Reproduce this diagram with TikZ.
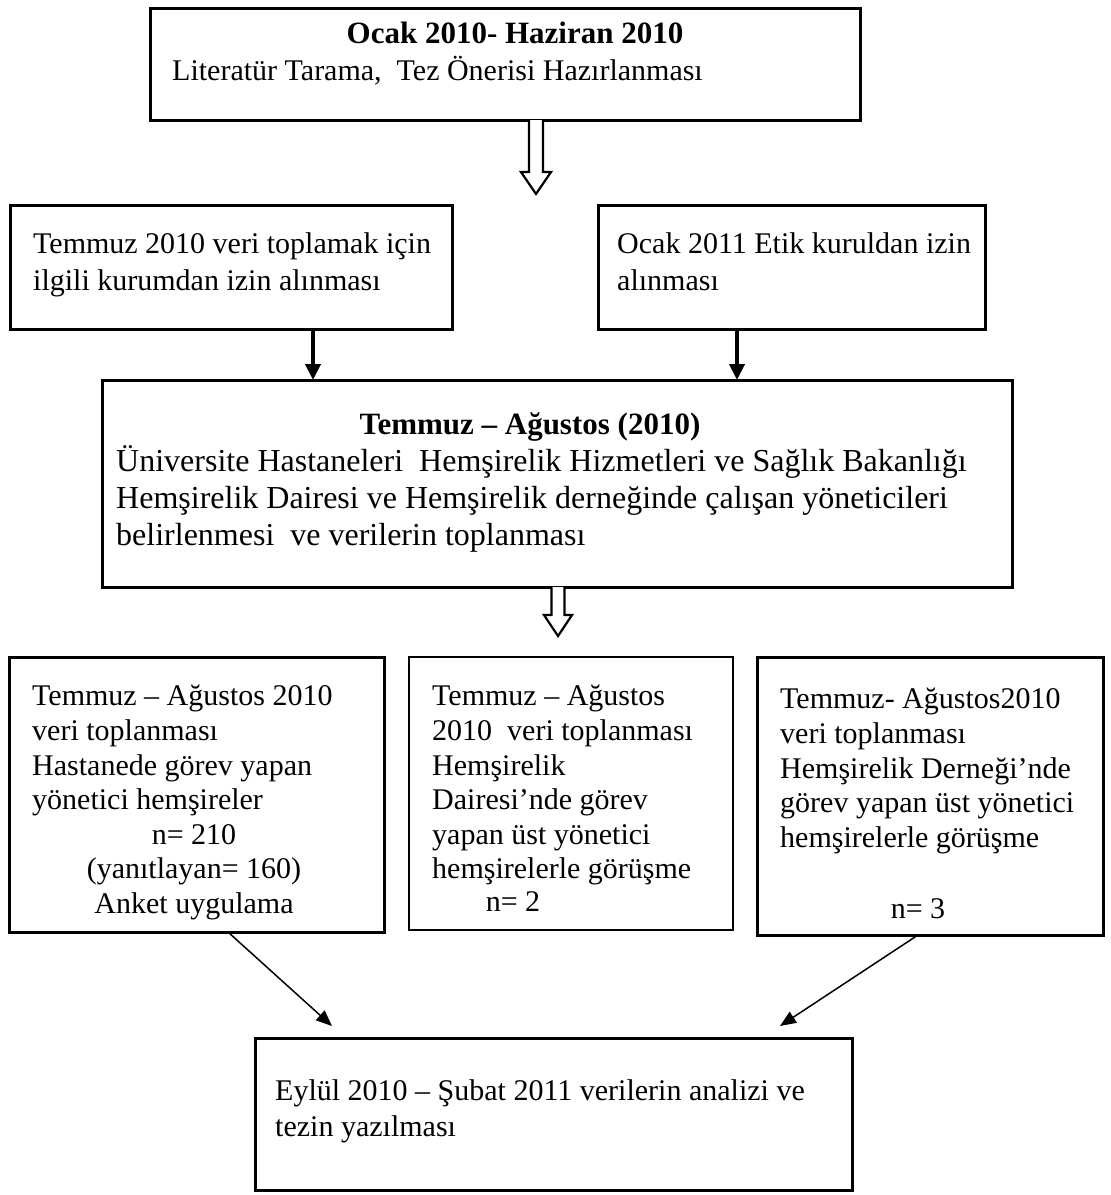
\documentclass[tikz,border=0pt]{standalone}
\usepackage{fontspec}
\setmainfont{Liberation Serif}
\usetikzlibrary{arrows.meta}
\begin{document}
\begin{tikzpicture}[x=1pt,y=-1pt,
  box/.style={draw, line width=3pt, inner sep=0pt, outer sep=0pt, anchor=north west},
  ln/.style={anchor=base west, inner sep=0pt, font=\fontsize{30}{34.5}\selectfont},
  lnc/.style={anchor=base, inner sep=0pt, font=\fontsize{30}{34.5}\selectfont},
  lnb/.style={anchor=base west, inner sep=0pt, font=\fontsize{32}{36.8}\selectfont},
  ttl/.style={anchor=base, inner sep=0pt, font=\fontsize{31}{35}\selectfont\bfseries},
  thickarr/.style={line width=4pt, -{Triangle[length=16pt,width=15pt]}},
  thinarr/.style={line width=1.5pt, -{Triangle[length=16pt,width=13pt]}},
  hollowA/.pic={\draw[line width=2.2pt, fill=white, line join=miter]
     (-7,0) -- (-7,52) -- (-15,52) -- (0,74) -- (15,52) -- (7,52) -- (7,0);},
  hollowB/.pic={\draw[line width=2.2pt, fill=white, line join=miter]
     (-6.5,0) -- (-6.5,28) -- (-14,28) -- (0,49) -- (14,28) -- (6.5,28) -- (6.5,0);}
]
\useasboundingbox (0,0) rectangle (1111,1195);

% boxes
\node[box, minimum width=710pt, minimum height=112pt] (b1) at (150,8) {};
\node[box, minimum width=442pt, minimum height=124pt] (b2) at (10,205) {};
\node[box, minimum width=387pt, minimum height=124pt] (b3) at (598,205) {};
\node[box, minimum width=910pt, minimum height=207pt] (b4) at (102,380) {};
\node[box, minimum width=375pt, minimum height=275pt] (b5) at (9,657) {};
\node[box, line width=2pt, minimum width=324pt, minimum height=273pt] (b6) at (409,657) {};
\node[box, minimum width=346pt, minimum height=278pt] (b7) at (757,657) {};
\node[box, minimum width=597pt, minimum height=152pt] (b8) at (255,1038) {};

% box 1 text
\node[ttl] (t1a) at (515,43) {Ocak 2010- Haziran 2010};
\node[ln] (t1b) at (172,80) {Literatür Tarama,\ \ Tez Önerisi Hazırlanması};

% box 2 / 3 text
\node[ln] (t2a) at (33,253) {Temmuz 2010 veri toplamak için};
\node[ln] (t2b) at (33,290) {ilgili kurumdan izin alınması};
\node[ln] (t3a) at (617,253) {Ocak 2011 Etik kuruldan izin};
\node[ln] (t3b) at (617,290) {alınması};

% box 4 text
\node[ttl] (t4a) at (530,434) {Temmuz – Ağustos (2010)};
\node[lnb] (t4b) at (116,471) {Üniversite Hastaneleri\ \ Hemşirelik Hizmetleri ve Sağlık Bakanlığı};
\node[lnb] (t4c) at (116,508) {Hemşirelik Dairesi ve Hemşirelik derneğinde çalışan yöneticileri};
\node[lnb] (t4d) at (116,545) {belirlenmesi\ \ ve verilerin toplanması};

% box 5 text
\node[ln] (t5a) at (32,705) {Temmuz – Ağustos 2010};
\node[ln] (t5b) at (32,740) {veri toplanması};
\node[ln] (t5c) at (32,775) {Hastanede görev yapan};
\node[ln] (t5d) at (32,809) {yönetici hemşireler};
\node[lnc] (t5e) at (194,844) {n= 210};
\node[lnc] (t5f) at (194,878) {(yanıtlayan= 160)};
\node[lnc] (t5g) at (194,913) {Anket uygulama};

% box 6 text
\node[ln] (t6a) at (432,705) {Temmuz – Ağustos};
\node[ln] (t6b) at (432,740) {2010\ \ veri toplanması};
\node[ln] (t6c) at (432,775) {Hemşirelik};
\node[ln] (t6d) at (432,809) {Dairesi’nde görev};
\node[ln] (t6e) at (432,844) {yapan üst yönetici};
\node[ln] (t6f) at (432,878) {hemşirelerle görüşme};
\node[lnc] (t6g) at (513,911) {n= 2};

% box 7 text
\node[ln] (t7a) at (780,708) {Temmuz- Ağustos2010};
\node[ln] (t7b) at (780,743) {veri toplanması};
\node[ln] (t7c) at (780,778) {Hemşirelik Derneği’nde};
\node[ln] (t7d) at (780,812) {görev yapan üst yönetici};
\node[ln] (t7e) at (780,847) {hemşirelerle görüşme};
\node[lnc] (t7f) at (918,918) {n= 3};

% box 8 text
\node[ln] (t8a) at (275,1100) {Eylül 2010 – Şubat 2011 verilerin analizi ve};
\node[ln] (t8b) at (275,1136) {tezin yazılması};

% connectors
\coordinate (h1) at (536,0);
\coordinate (h2) at (558,0);
\pic at (h1 |- b1.south) {hollowA};
\pic at (h2 |- b4.south) {hollowB};

\coordinate (k2) at (313,0);
\coordinate (k3) at (737,0);
\draw[thickarr] (k2 |- b2.south) -- (k2 |- b4.north);
\draw[thickarr] (k3 |- b3.south) -- (k3 |- b4.north);

\coordinate (s5) at (228,0);
\coordinate (s7) at (918,0);
\coordinate (e5) at (332,1026);
\coordinate (e7) at (780,1026);
\draw[thinarr] (s5 |- b5.south) -- (e5);
\draw[thinarr] (s7 |- b7.south) -- (e7);
\end{tikzpicture}
\end{document}
